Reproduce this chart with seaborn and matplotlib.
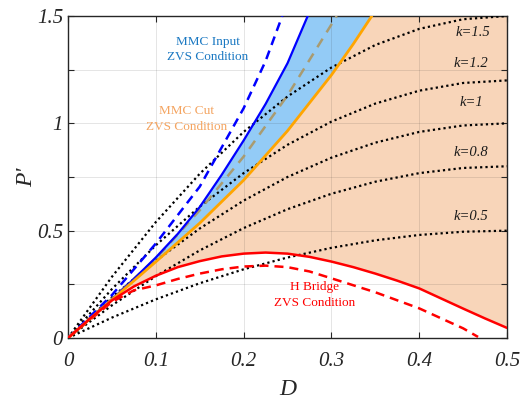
import numpy as np
import pandas as pd
import matplotlib
matplotlib.use("Agg")
import matplotlib.pyplot as plt
import seaborn as sns

# ---- data -------------------------------------------------------------
D_k = [0, 0.05, 0.10, 0.15, 0.20, 0.25, 0.30, 0.35, 0.40, 0.45, 0.50]
k_labels = ["k=0.5", "k=0.8", "k=1", "k=1.2", "k=1.5"]
P_k05 = [0, 0.095, 0.180, 0.255, 0.320, 0.375, 0.420, 0.455, 0.480, 0.495, 0.500]
P_k08 = [0, 0.152, 0.288, 0.408, 0.512, 0.600, 0.672, 0.728, 0.768, 0.792, 0.800]
P_k10 = [0, 0.190, 0.360, 0.510, 0.640, 0.750, 0.840, 0.910, 0.960, 0.990, 1.000]
P_k12 = [0, 0.228, 0.432, 0.612, 0.768, 0.900, 1.008, 1.092, 1.152, 1.188, 1.200]
P_k15 = [0, 0.285, 0.540, 0.765, 0.960, 1.125, 1.260, 1.365, 1.440, 1.485, 1.500]

# MMC input ZVS boundary (solid) and its dashed companion
D_in = [0, 0.025, 0.05, 0.075, 0.10, 0.125, 0.15, 0.175, 0.20, 0.225, 0.25, 0.273]
P_in = [0, 0.090, 0.180, 0.275, 0.375, 0.485, 0.610, 0.760, 0.920, 1.090, 1.280, 1.500]
D_in_d = [0, 0.05, 0.10, 0.15, 0.20, 0.225, 0.244]
P_in_d = [0, 0.200, 0.440, 0.705, 1.070, 1.290, 1.500]

# MMC cut ZVS boundary (solid) and dashed companion
D_cut = [0, 0.05, 0.10, 0.15, 0.20, 0.25, 0.30, 0.325, 0.346]
P_cut = [0, 0.178, 0.355, 0.535, 0.735, 0.965, 1.225, 1.370, 1.500]
D_cut_d = [0, 0.05, 0.10, 0.15, 0.20, 0.25, 0.306]
P_cut_d = [0, 0.182, 0.370, 0.595, 0.845, 1.130, 1.500]

# H-bridge ZVS boundary (solid) and dashed companion
D_hb = [0, 0.025, 0.05, 0.075, 0.10, 0.125, 0.15, 0.175, 0.20, 0.225,
        0.25, 0.275, 0.30, 0.325, 0.35, 0.375, 0.40, 0.425, 0.45, 0.475, 0.50]
P_hb = [0, 0.090, 0.175, 0.240, 0.290, 0.330, 0.358, 0.380, 0.393, 0.398,
        0.393, 0.378, 0.356, 0.330, 0.300, 0.267, 0.231, 0.184, 0.137, 0.091, 0.047]
D_hb_d = [0, 0.025, 0.05, 0.075, 0.10, 0.125, 0.15, 0.175, 0.20, 0.225,
          0.25, 0.275, 0.30, 0.35, 0.40, 0.45, 0.467]
P_hb_d = [0, 0.085, 0.168, 0.222, 0.245, 0.275, 0.300, 0.320, 0.333, 0.337,
          0.330, 0.310, 0.278, 0.213, 0.138, 0.045, 0.005]

x_ticks = [0, 0.1, 0.2, 0.3, 0.4, 0.5]
x_tick_labels = ["0", "0.1", "0.2", "0.3", "0.4", "0.5"]
y_ticks = [0, 0.25, 0.5, 0.75, 1.0, 1.25, 1.5]
y_tick_labels = ["0", "", "0.5", "", "1", "", "1.5"]
XMAX, YMAX = 0.5, 1.5

# ---- style ------------------------------------------------------------
sns.set_theme(style="white")
plt.rcParams["font.family"] = ["Liberation Serif", "DejaVu Serif"]

fig, ax = plt.subplots(figsize=(5.24, 3.99), dpi=100)
fig.subplots_adjust(left=0.1298, right=0.9676, top=0.9599, bottom=0.1529)

BLUE_FILL = "#93CBF6"
PEACH_FILL = "#F8D5B9"

# shaded regions
ax.fill(np.r_[D_in, D_cut[::-1]], np.r_[P_in, P_cut[::-1]],
        color=BLUE_FILL, lw=0, zorder=1)
ax.fill(np.r_[D_cut, [XMAX], D_hb[::-1]], np.r_[P_cut, [YMAX], P_hb[::-1]],
        color=PEACH_FILL, lw=0, zorder=1)

# constant-k curves
k_df = pd.DataFrame({"D": D_k * 5,
                     "P": P_k05 + P_k08 + P_k10 + P_k12 + P_k15,
                     "k": sum([[lab] * len(D_k) for lab in k_labels], [])})
for lab in k_labels:
    sub = k_df[k_df["k"] == lab]
    sns.lineplot(data=sub, x="D", y="P", ax=ax, color="black",
                 linestyle=(0, (1, 1.4)), lw=1.6, sort=False,
                 estimator=None, zorder=3)

def curve(dx, py, color, ls, lw):
    sns.lineplot(x=dx, y=py, ax=ax, color=color, linestyle=ls, lw=lw,
                 sort=False, estimator=None, zorder=4)

curve(D_cut_d, P_cut_d, "#A99B70", (0, (4, 3)), 1.8)
curve(D_in_d, P_in_d, "#0000FF", (0, (3.6, 2.4)), 1.8)
curve(D_hb_d, P_hb_d, "#FF0000", (0, (3.6, 2.4)), 1.8)
curve(D_in, P_in, "#0000FF", "-", 1.6)
curve(D_cut, P_cut, "#FFA500", "-", 2.0)
curve(D_hb, P_hb, "#FF0000", "-", 1.8)

# axes
ax.set_xlim(0, XMAX)
ax.set_ylim(0, YMAX)
ax.set_xticks(x_ticks)
ax.set_xticklabels(x_tick_labels)
ax.set_yticks(y_ticks)
ax.set_yticklabels(y_tick_labels)
for lab in ax.get_xticklabels() + ax.get_yticklabels():
    lab.set_fontstyle("italic")
    lab.set_fontsize(15)
    lab.set_color("#262626")
ax.tick_params(direction="in", length=4, width=0.8, color="#262626",
               top=True, right=True, bottom=True, left=True)
ax.tick_params(axis="x", pad=10)
ax.tick_params(axis="y", pad=3.5)
ax.grid(True, color="#262626", alpha=0.12, lw=0.7)
ax.set_axisbelow("line")
for sp in ax.spines.values():
    sp.set_color("#262626")
    sp.set_linewidth(1.0)
    sp.set_visible(True)

ax.set_xlabel("D", fontsize=17, fontstyle="italic", labelpad=6)
ax.set_ylabel("P'", fontsize=17, fontstyle="italic", labelpad=0)

# annotations
txt = dict(fontsize=9.5, ha="center", va="center", linespacing=1.35)
ax.text(0.159, 1.345, "MMC Input\nZVS Condition", color="#1A78C2", **txt)
ax.text(0.135, 1.02, "MMC Cut\nZVS Condition", color="#F4A460", **txt)
ax.text(0.281, 0.200, "H Bridge\nZVS Condition", color="#FF0000", **txt)

k_pos = [(0.459, 0.564), (0.459, 0.866), (0.459, 1.095), (0.459, 1.281), (0.461, 1.421)]
for lab, (xk, yk) in zip(k_labels, k_pos):
    ax.text(xk, yk, lab, fontsize=10.5, fontstyle="italic", ha="center",
            va="center", color="#1a1a1a")

fig.savefig("out.png", dpi=100)
